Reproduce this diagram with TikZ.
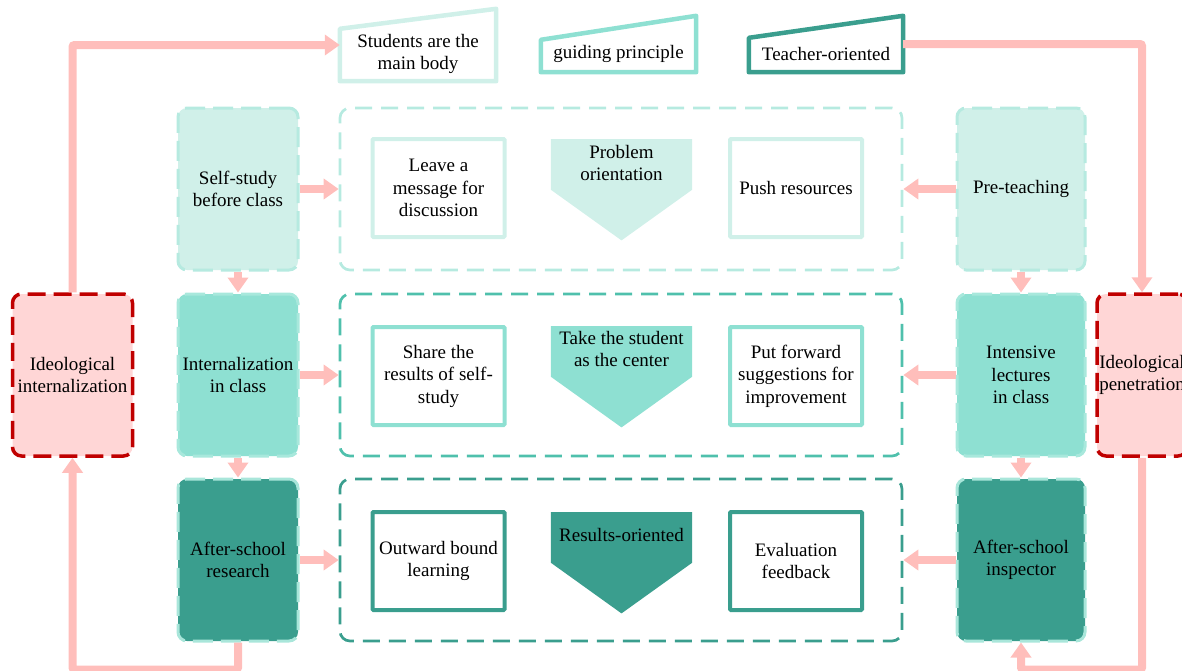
\documentclass[tikz,border=0pt]{standalone}
\usepackage{fontspec}
\setmainfont{Liberation Serif}
\usetikzlibrary{arrows.meta,calc}
\definecolor{tlight}{HTML}{D0F0E9}
\definecolor{tlightb}{HTML}{B6EAE0}
\definecolor{tmed}{HTML}{8EE0D2}
\definecolor{tmedb}{HTML}{A8E8DC}
\definecolor{tmedc}{HTML}{4FC0AC}
\definecolor{tdark}{HTML}{3A9E8E}
\definecolor{tdarkb}{HTML}{A9E6DA}
\definecolor{pinkar}{HTML}{FFBEBB}
\definecolor{redc}{HTML}{C00000}
\definecolor{pinkfill}{HTML}{FFD6D6}
\begin{document}
\begin{tikzpicture}[x=1pt,y=-1pt,
  txt/.style={font=\fontsize{19}{22.5}\selectfont, align=center, text=black, inner sep=0pt},
  colbox/.style={txt, rectangle, rounded corners=9pt, minimum width=120pt, minimum height=162pt, line width=3pt, dash pattern=on 20pt off 8pt},
  rcolbox/.style={colbox, minimum width=128pt},
  redbox/.style={colbox, draw=redc, fill=pinkfill, dash pattern=on 18pt off 8pt, line width=3.5pt},
  cont/.style={rectangle, rounded corners=10pt, minimum width=562pt, minimum height=162pt, line width=2.7pt, dash pattern=on 17pt off 9pt},
  inbox/.style={txt, rectangle, minimum width=132pt, minimum height=98pt, line width=4pt, rounded corners=1pt},
  pentb/.style={rectangle, minimum width=141pt, minimum height=101pt, anchor=north, inner sep=0pt},
  trap/.style={rectangle, inner sep=0pt},
  pk/.style={draw=pinkar, line width=8pt, -{Triangle[width=20pt,length=15pt]}}
]
\clip (0,0) rectangle (1182,670);
\useasboundingbox (0,0) rectangle (1182,670);

% top trapezoid labels
\node[trap, minimum width=156pt, minimum height=72pt] (stu) at (418,45) {};
\draw[tlight, line width=4.5pt, line join=round] ([yshift=-20pt]stu.north west) -- (stu.north east) -- (stu.south east) -- (stu.south west) -- cycle;
\node[txt] (stut) at (418,54) {Students are the\\main body};

\node[trap, minimum width=155pt, minimum height=56pt] (gp) at (618.5,44) {};
\draw[tmed, line width=4.5pt, line join=round] ([yshift=-24pt]gp.north west) -- (gp.north east) -- (gp.south east) -- (gp.south west) -- cycle;
\node[txt] (gpt) at (618.5,54) {guiding principle};

\node[trap, minimum width=154pt, minimum height=56pt] (te) at (826,44) {};
\draw[tdark, line width=4.5pt, line join=round] ([yshift=-22pt]te.north west) -- (te.north east) -- (te.south east) -- (te.south west) -- cycle;
\node[txt] (tet) at (826,54) {Teacher-oriented};

% left column
\node[colbox, fill=tlight, draw=tlightb] (ss) at (238,189) {Self-study\\before class};
\node[colbox, fill=tmed, draw=tmedb] (ic) at (238,375) {Internalization\\in class};
\node[colbox, fill=tdark, draw=tdarkb] (rs) at (238,560) {After-school\\research};

% right column
\node[rcolbox, fill=tlight, draw=tlightb] (pt) at (1021,189) {Pre-teaching};
\node[rcolbox, fill=tmed, draw=tmedb] (il) at (1021,375) {Intensive\\lectures\\in class};
\node[rcolbox, fill=tdark, draw=tdarkb] (ai) at (1021,560) {After-school\\inspector};

% red boxes
\node[redbox] (ii) at (72.5,375) {Ideological\\internalization};
\node[redbox, minimum width=90pt] (ip) at (1142,375) {Ideological\\penetration};

% containers
\node[cont, draw=tlightb] (r1) at (621,189) {};
\node[cont, draw=tmedc] (r2) at (621,375) {};
\node[cont, draw=tdark] (r3) at (621,560) {};

% row 1
\node[inbox, draw=tlight] (a1) at (438.5,188) {Leave a\\message for\\discussion};
\node[pentb] (p1) at (621.5,139) {};
\fill[tlight] (p1.north west) -- (p1.north east) -- (p1.east) -- (p1.south) -- (p1.west) -- cycle;
\node[txt] (p1t) at (621.5,163) {Problem\\orientation};
\node[inbox, draw=tlight] (b1) at (796,188) {Push resources};

% row 2
\node[inbox, draw=tmed] (a2) at (438.5,376) {Share the\\results of self-\\study};
\node[pentb] (p2) at (621.5,326) {};
\fill[tmed] (p2.north west) -- (p2.north east) -- (p2.east) -- (p2.south) -- (p2.west) -- cycle;
\node[txt] (p2t) at (621.5,349) {Take the student\\as the center};
\node[inbox, draw=tmed] (b2) at (796,376) {Put forward\\suggestions for\\improvement};

% row 3
\node[inbox, draw=tdark] (a3) at (438.5,561) {Outward bound\\learning};
\node[pentb] (p3) at (621.5,512) {};
\fill[tdark] (p3.north west) -- (p3.north east) -- (p3.east) -- (p3.south) -- (p3.west) -- cycle;
\node[txt] (p3t) at (621.5,535) {Results-oriented};
\node[inbox, draw=tdark] (b3) at (796,561) {Evaluation\\feedback};

% horizontal arrows
\draw[pk] (ss.east) -- (r1.west);
\draw[pk] (ic.east) -- (r2.west);
\draw[pk] (rs.east) -- (r3.west);
\draw[pk] (pt.west) -- (r1.east);
\draw[pk] (il.west) -- (r2.east);
\draw[pk] (ai.west) -- (r3.east);

% vertical arrows
\draw[pk] (ss.south) -- (ic.north);
\draw[pk] (ic.south) -- (rs.north);
\draw[pk] (pt.south) -- (il.north);
\draw[pk] (il.south) -- (ai.north);

% loops
\draw[pk, rounded corners=2pt] (ii.north) |- (stu.west);
\draw[pk, rounded corners=2pt] (te.east) -| (ip.north);
\draw[pk, rounded corners=2pt] (rs.south) -- ++(0,27) -| (ii.south);
\draw[pk, rounded corners=2pt] (ip.south) |- ([yshift=-27pt]ai.south) -- (ai.south);
\end{tikzpicture}
\end{document}
